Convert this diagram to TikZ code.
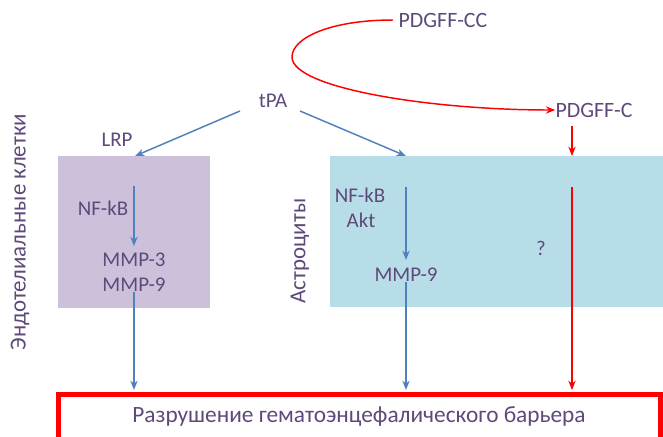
\documentclass[tikz,border=0pt]{standalone}
\usepackage{fontspec}
\setmainfont{Carlito}
\usepackage{xcolor}
\usetikzlibrary{arrows.meta}
\definecolor{txtpurple}{RGB}{95,73,122}
\definecolor{arrblue}{RGB}{79,129,189}
\definecolor{endofill}{RGB}{204,192,218}
\definecolor{astrofill}{RGB}{183,222,232}
\definecolor{barred}{RGB}{255,0,0}

\tikzset{
  lbl/.style={text=txtpurple, font=\fontsize{15.7}{18}\selectfont, inner sep=0pt},
  biglbl/.style={lbl, font=\fontsize{17.2}{20}\selectfont},
  bluearr/.style={draw=arrblue, line width=1.1pt, -{Stealth[length=7pt,width=5.5pt]}},
  redarr/.style={draw=barred, line width=1.1pt, -{Stealth[length=7pt,width=5.5pt]}}
}

\begin{document}
\begin{tikzpicture}[x=0.75pt,y=-0.75pt]
\useasboundingbox (0,0) rectangle (663,436);
\clip (0,0) rectangle (663,436);

% cells
\fill [endofill] (58,156) rectangle (210,308);
\fill [astrofill] (330,156) rectangle (663,307);
% barrier
\draw [barred, line width=3.75pt] (58,394) rectangle (660,470);

\node [lbl, font=\fontsize{16.4}{19}\selectfont] (pdgfcc) at (443,20) {PDGFF-CC};
\node [lbl, font=\fontsize{16.4}{19}\selectfont] (pdgfc) at (594,110) {PDGFF-C};
\node [lbl] (tpa) at (273,101) {tPA};
\node [lbl] (lrp) at (117,140) {LRP};
\node [lbl] (nfkbA) at (103,208) {NF-kB};
\node [lbl] (mmp3) at (134,260) {MMP-3};
\node [lbl] (mmp9A) at (134,285) {MMP-9};
\node [lbl] (nfkbB) at (360,195) {NF-kB};
\node [lbl] (akt) at (361,220) {Akt};
\node [lbl] (mmp9B) at (406,275) {MMP-9};
\node [lbl] (unknown) at (541,248) {?};
\node [biglbl, rotate=90] (endo) at (20,232) {Эндотелиальные клетки};
\node [biglbl, rotate=90] (astro) at (300,251) {Астроциты};
\node [biglbl, font=\fontsize{17.5}{20}\selectfont] (bbb) at (359,416) {Разрушение гематоэнцефалического барьера};

\coordinate (tpaL) at (240,111);
\coordinate (tpaR) at (300,111);
\coordinate (endoTop) at (135,156);
\coordinate (astroTop) at (406,156);
\coordinate (endoIn) at (134,186);
\coordinate (astroIn) at (406,187);
\coordinate (redIn) at (572,187);
\coordinate (redTop) at (572,156);
\coordinate (endoOut) at (134,390);
\coordinate (astroOut) at (406,390);
\coordinate (redOut) at (572,390);

% tPA pathways
\draw [bluearr] (tpaL) -- (endoTop);
\draw [bluearr] (tpaR) -- (astroTop);
\draw [bluearr] (endoIn) -- (134,246);
\draw [bluearr] (mmp9A.south) -- (endoOut);
\draw [bluearr] (astroIn) -- (406,260);
\draw [bluearr] (mmp9B.south) -- (astroOut);

% PDGF-CC pathway
\draw [redarr] ([xshift=-4]pdgfcc.west) .. controls (330,20) and (292,38) .. (292,57)
  .. controls (292,88) and (430,110) .. (pdgfc.west);
\draw [redarr] (572,126) -- (redTop);
\draw [redarr] (redIn) -- (redOut);

\end{tikzpicture}
\end{document}
